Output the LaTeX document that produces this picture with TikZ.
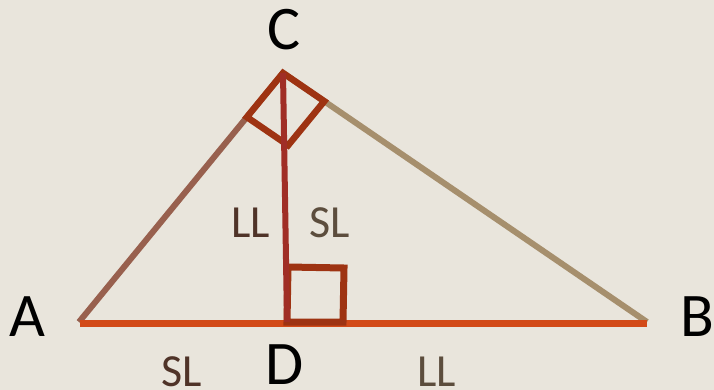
\documentclass[tikz,border=0pt]{standalone}
\usepackage{fontspec}
\setmainfont{Carlito}
\usetikzlibrary{calc}
\definecolor{bg}{HTML}{E9E5DC}
\definecolor{acol}{HTML}{98604E}
\definecolor{bcol}{HTML}{A68F6D}
\definecolor{abcol}{HTML}{D24A18}
\definecolor{altcol}{HTML}{A02E26}
\definecolor{sqcol}{HTML}{9E3312}
\definecolor{txa}{HTML}{4F3328}
\definecolor{txb}{HTML}{5C4D3D}
\tikzset{
  vlabel/.style={font=\fontsize{62}{62}\selectfont, text=black, inner sep=0pt},
  slabel/.style={font=\fontsize{46}{46}\selectfont, inner sep=0pt},
  rightmark/.style={draw=sqcol, line width=6.5pt, line join=miter},
}
\begin{document}
\begin{tikzpicture}[x=1pt,y=-1pt]
\fill[bg] (0,0) rectangle (714,390);
\useasboundingbox (0,0) rectangle (714,390);
\coordinate (A) at (79,322);
\coordinate (B) at (647,322);
\coordinate (C) at (283,73);
\coordinate (D) at (287,322);
\coordinate (AB1) at (80,323);
\coordinate (AB2) at (647,323);
% sides
\draw[acol, line width=6pt] (A) -- (C);
\draw[bcol, line width=6pt] (C) -- (B);
\draw[abcol, line width=7pt] (AB1) -- (AB2);
% right angle at C
\coordinate (P1) at ($(C)!57pt!(A)$);
\coordinate (P3) at ($(C)!50pt!(B)$);
\coordinate (P2) at ($(P1)+(P3)-(C)$);
\draw[rightmark] (C) -- (P1) -- (P2) -- (P3) -- cycle;
% right angle at D
\coordinate (Q1) at (288,267);
\coordinate (Q2) at (344,268);
\coordinate (Q3) at (343,322);
\draw[rightmark, line width=7pt] (D) -- (Q1) -- (Q2) -- (Q3) -- cycle;
% altitude
\draw[altcol, line width=6pt] (C) -- (D);
% labels
\node[vlabel] (lA) at (27,317) {A};
\node[vlabel] (lB) at (697,317) {B};
\node[vlabel] (lC) at (284,30) {C};
\node[vlabel] (lD) at (285,365) {D};
\node[slabel, text=txa] (l1) at (251,223) {LL};
\node[slabel, text=txb] (l2) at (330,223) {SL};
\node[slabel, text=txa] (l3) at (182,372) {SL};
\node[slabel, text=txb] (l4) at (437,372) {LL};
\end{tikzpicture}
\end{document}
